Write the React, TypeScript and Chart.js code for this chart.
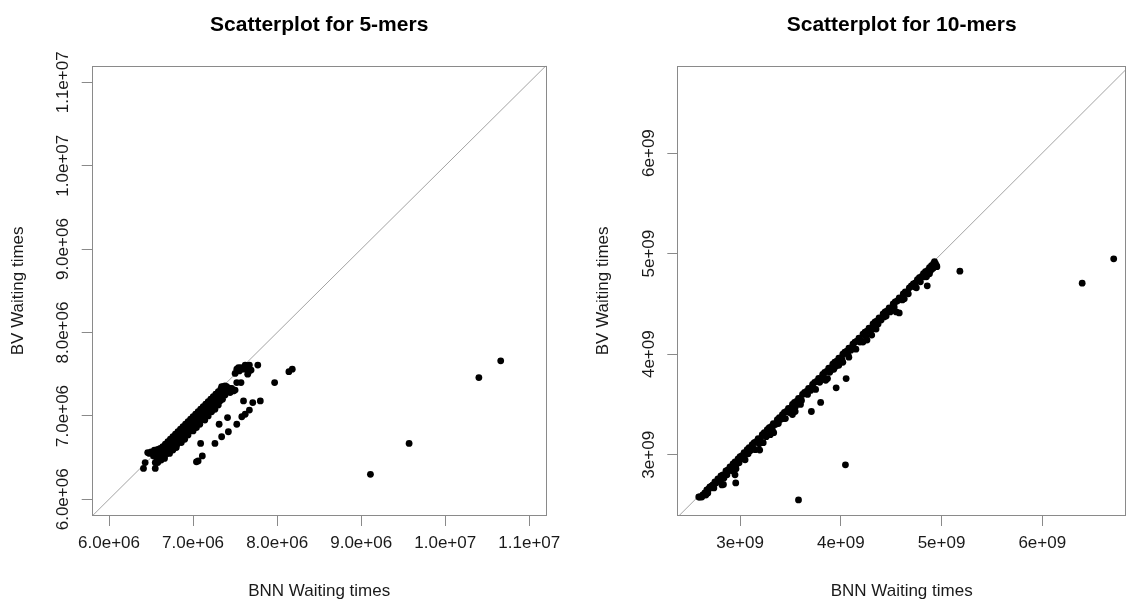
import React, { useEffect, useRef } from "react";
import { Chart, registerables } from "chart.js";

Chart.register(...registerables);

const FONT = "'Liberation Sans', Arial, Helvetica, sans-serif";
const TEXT_COLOR = "#1a1a1a";
const FRAME_COLOR = "#8a8a8a";
const DIAGONAL_COLOR = "#a3a3a3";
const POINT_COLOR = "#000000";

// ---- titles ----
const fiveMerTitle = "Scatterplot for 5-mers";
const tenMerTitle = "Scatterplot for 10-mers";
const xAxisTitle = "BNN Waiting times";
const yAxisTitle = "BV Waiting times";

// ---- 5-mers axis ----
const fiveMerTickValues = [6.0e6, 7.0e6, 8.0e6, 9.0e6, 1.0e7, 1.1e7];
const fiveMerTickLabels = ["6.0e+06", "7.0e+06", "8.0e+06", "9.0e+06", "1.0e+07", "1.1e+07"];
const fiveMerXLimits = [5.794e6, 11.207e6];
const fiveMerYLimits = [5.8e6, 11.199e6];
const fiveMerUnit = 1e6;

// [BNN, BV] in millions
const fiveMerPoints: number[][] = [
  [6.41, 6.37], [6.43, 6.44], [6.55, 6.37], [6.55, 6.44], [6.46, 6.56], [6.48, 6.55],
  [6.5, 6.57], [6.52, 6.56], [6.53, 6.52], [6.54, 6.59], [6.56, 6.55], [6.57, 6.49],
  [6.58, 6.6], [6.59, 6.54], [6.6, 6.47], [6.61, 6.61], [6.62, 6.56], [6.63, 6.5],
  [6.64, 6.63], [6.65, 6.58], [6.66, 6.52], [6.67, 6.66], [6.68, 6.61], [6.69, 6.55],
  [6.7, 6.69], [6.71, 6.64], [6.72, 6.58], [6.73, 6.72], [6.74, 6.67], [6.75, 6.61],
  [6.76, 6.75], [6.77, 6.7], [6.78, 6.63], [6.79, 6.78], [6.8, 6.73], [6.81, 6.66],
  [6.82, 6.81], [6.83, 6.76], [6.84, 6.7], [6.85, 6.84], [6.86, 6.79], [6.87, 6.72],
  [6.88, 6.87], [6.89, 6.82], [6.9, 6.76], [6.91, 6.9], [6.92, 6.85], [6.93, 6.79],
  [6.94, 6.93], [6.95, 6.88], [6.96, 6.82], [6.97, 6.96], [6.98, 6.91], [6.99, 6.85],
  [7.0, 6.99], [7.01, 6.94], [7.02, 6.88], [7.03, 7.02], [7.04, 6.97], [7.05, 6.91],
  [7.06, 7.05], [7.07, 7.0], [7.08, 6.94], [7.09, 7.08], [7.1, 7.03], [7.11, 6.97],
  [7.12, 7.11], [7.13, 7.06], [7.14, 7.0], [7.15, 7.14], [7.16, 7.09], [7.17, 7.03],
  [7.18, 7.17], [7.19, 7.12], [7.2, 7.06], [7.21, 7.2], [7.22, 7.15], [7.23, 7.09],
  [7.24, 7.23], [7.25, 7.18], [7.26, 7.12], [7.27, 7.26], [7.28, 7.21], [7.29, 7.15],
  [7.3, 7.29], [7.31, 7.24], [7.32, 7.18], [7.33, 7.32], [7.34, 7.35], [7.35, 7.27],
  [7.36, 7.35], [7.37, 7.33], [7.38, 7.36], [7.39, 7.3], [7.4, 7.35], [7.42, 7.33],
  [7.44, 7.33], [7.46, 7.33], [7.5, 7.31],
  [6.58, 6.44], [6.62, 6.47], [6.66, 6.49], [6.72, 6.55], [6.76, 6.59], [6.8, 6.62],
  [6.86, 6.68], [6.9, 6.72], [6.94, 6.77], [7.0, 6.82], [7.04, 6.86], [7.08, 6.9],
  [7.14, 6.95], [7.18, 7.0], [7.22, 7.05], [7.26, 7.08], [7.3, 7.13], [7.35, 7.2],
  [7.38, 7.25], [7.44, 7.28], [7.48, 7.3],
  [7.5, 7.51], [7.52, 7.56], [7.54, 7.58], [7.55, 7.54], [7.57, 7.58], [7.6, 7.56],
  [7.62, 7.61], [7.64, 7.6], [7.65, 7.58], [7.67, 7.61], [7.69, 7.55], [7.66, 7.53],
  [7.65, 7.5], [7.77, 7.61], [7.52, 7.4], [7.57, 7.4],
  [7.04, 6.45], [7.06, 6.46], [7.11, 6.52], [7.09, 6.67], [7.26, 6.67], [7.34, 6.75],
  [7.31, 6.9], [7.42, 6.81], [7.41, 6.98], [7.52, 6.9], [7.58, 6.99], [7.62, 7.02],
  [7.67, 7.07], [7.6, 7.18], [7.71, 7.16], [7.8, 7.18], [7.97, 7.4], [8.14, 7.53],
  [8.18, 7.56],
  [9.11, 6.3], [9.57, 6.67], [10.4, 7.46], [10.66, 7.66],
];

// ---- 10-mers axis ----
const tenMerTickValues = [3e9, 4e9, 5e9, 6e9];
const tenMerTickLabels = ["3e+09", "4e+09", "5e+09", "6e+09"];
const tenMerXLimits = [2.377e9, 6.831e9];
const tenMerYLimits = [2.391e9, 6.8685e9];
const tenMerUnit = 1e9;

// [BNN, BV] in billions
const tenMerPoints: number[][] = [
  [2.59, 2.58], [2.6, 2.58], [2.62, 2.58], [2.63, 2.6], [2.65, 2.62], [2.66, 2.6],
  [2.67, 2.65], [2.69, 2.66], [2.7, 2.68], [2.72, 2.69], [2.73, 2.7], [2.75, 2.73],
  [2.76, 2.72], [2.78, 2.76], [2.79, 2.75], [2.81, 2.79], [2.83, 2.8], [2.84, 2.77],
  [2.86, 2.84], [2.88, 2.85], [2.9, 2.88], [2.91, 2.86], [2.93, 2.91], [2.95, 2.93],
  [2.96, 2.9], [2.98, 2.96], [3.0, 2.98], [3.02, 2.99], [3.04, 3.02], [3.05, 3.0],
  [3.07, 3.05], [3.09, 3.07], [3.1, 3.04], [3.12, 3.1], [3.14, 3.12], [3.16, 3.13],
  [3.18, 3.16], [3.2, 3.15], [3.22, 3.2], [3.24, 3.22], [3.25, 3.19], [3.27, 3.25],
  [3.29, 3.27], [3.31, 3.28], [3.33, 3.31], [3.35, 3.3], [3.37, 3.35], [3.39, 3.37],
  [3.4, 3.35], [3.42, 3.4], [3.44, 3.42], [3.46, 3.43], [3.48, 3.46], [3.5, 3.45],
  [3.52, 3.5], [3.54, 3.52], [3.56, 3.53], [3.58, 3.56], [3.6, 3.55], [3.62, 3.6],
  [3.64, 3.62], [3.66, 3.63], [3.68, 3.66], [3.7, 3.64], [3.72, 3.7], [3.74, 3.72],
  [3.76, 3.73], [3.78, 3.76], [3.8, 3.74], [3.82, 3.8], [3.84, 3.82], [3.86, 3.83],
  [3.88, 3.86], [3.9, 3.84], [3.92, 3.9], [3.94, 3.92], [3.96, 3.93], [3.98, 3.96],
  [4.0, 3.94], [4.02, 4.0], [4.04, 4.02], [4.06, 4.03], [4.08, 4.06], [4.1, 4.04],
  [4.12, 4.1], [4.14, 4.12], [4.16, 4.13], [4.18, 4.16], [4.2, 4.14], [4.22, 4.2],
  [4.24, 4.22], [4.26, 4.23], [4.28, 4.26], [4.3, 4.24], [4.32, 4.3], [4.34, 4.32],
  [4.36, 4.33], [4.38, 4.36], [4.4, 4.34], [4.42, 4.4], [4.44, 4.42], [4.46, 4.43],
  [4.48, 4.46], [4.5, 4.44], [4.52, 4.5], [4.54, 4.52], [4.56, 4.53], [4.58, 4.56],
  [4.6, 4.55], [4.62, 4.6], [4.64, 4.62], [4.66, 4.62], [4.68, 4.66], [4.7, 4.68],
  [4.72, 4.7], [4.74, 4.71], [4.76, 4.74], [4.78, 4.76], [4.8, 4.77], [4.82, 4.8],
  [4.84, 4.82], [4.86, 4.83], [4.88, 4.86], [4.9, 4.88], [4.92, 4.9], [4.93, 4.92],
  [4.94, 4.9], [4.95, 4.88], [4.92, 4.86],
  [2.68, 2.62], [2.74, 2.67], [2.8, 2.74], [2.87, 2.8], [2.92, 2.84], [2.99, 2.92],
  [3.03, 2.96], [3.08, 3.01], [3.13, 3.06], [3.19, 3.11], [3.26, 3.18], [3.32, 3.25],
  [3.38, 3.31], [3.43, 3.36], [3.49, 3.42], [3.55, 3.48], [3.61, 3.54], [3.67, 3.6],
  [3.73, 3.66], [3.79, 3.72], [3.83, 3.77], [3.89, 3.82], [3.95, 3.88], [4.01, 3.95],
  [4.07, 4.0], [4.13, 4.06], [4.19, 4.12], [4.25, 4.18], [4.31, 4.25], [4.37, 4.3],
  [4.43, 4.37], [4.49, 4.42], [4.53, 4.47], [4.61, 4.54], [4.67, 4.6], [4.73, 4.67],
  [4.79, 4.72], [4.83, 4.77], [4.89, 4.83], [4.91, 4.85],
  [2.82, 2.7], [2.95, 2.8], [3.05, 2.95], [3.15, 3.05], [3.23, 3.12], [3.3, 3.2],
  [3.45, 3.36], [3.52, 3.4], [3.6, 3.5], [3.75, 3.65], [3.85, 3.74], [3.93, 3.85],
  [4.02, 3.92], [4.15, 4.05], [4.22, 4.12], [4.35, 4.25], [4.45, 4.38], [4.55, 4.42],
  [4.58, 4.41], [4.63, 4.55], [4.75, 4.66], [4.85, 4.77], [4.88, 4.8],
  [2.835, 2.705], [2.957, 2.72], [2.96, 2.86], [3.195, 3.047], [3.12, 3.066],
  [3.334, 3.22], [3.494, 3.45], [3.547, 3.43], [3.708, 3.43], [3.8, 3.52],
  [3.868, 3.757], [3.954, 3.665], [4.053, 3.757], [3.98, 3.89], [4.08, 3.97],
  [4.26, 4.14], [4.307, 4.19], [4.858, 4.68], [4.865, 4.795], [4.954, 4.87],
  [5.182, 4.825], [6.396, 4.706], [6.709, 4.948], [4.046, 2.9], [3.58, 2.551],
];

// ---- panel placement (pixels) ----
const leftPanelLayout = { left: 0, areaLeft: 91.7, padRight: 18.3, yTitlePad: 8.6 };
const rightPanelLayout = { left: 565, areaLeft: 112.3, padRight: 1, yTitlePad: 28.5 };
const PANEL_W = 565;
const PANEL_H = 605;
const AREA_TOP = 65.7;
const X_SCALE_H = 89;
const TITLE_BASELINE = 30.6;
const Y_LABEL_GAP = 23.7;

type PanelProps = {
  title: string;
  points: number[][];
  unit: number;
  tickValues: number[];
  tickLabels: string[];
  xLim: number[];
  yLim: number[];
  layout: { left: number; areaLeft: number; padRight: number; yTitlePad: number };
};

function Panel(p: PanelProps) {
  const ref = useRef<HTMLCanvasElement>(null);

  useEffect(() => {
    const canvas = ref.current;
    if (!canvas) return;
    const pts = p.points.map(([x, y]) => ({ x: x * p.unit, y: y * p.unit }));
    const lo = Math.min(p.xLim[0], p.yLim[0]);
    const hi = Math.max(p.xLim[1], p.yLim[1]);

    const framePlugin = {
      id: "frameAndLabels",
      afterDraw(chart: any) {
        const { ctx, chartArea: a } = chart;
        ctx.save();
        ctx.strokeStyle = FRAME_COLOR;
        ctx.lineWidth = 1;
        ctx.strokeRect(
          Math.round(a.left) + 0.5,
          Math.round(a.top) + 0.5,
          Math.round(a.right) - Math.round(a.left) - 1,
          Math.round(a.bottom) - Math.round(a.top) - 1
        );
        ctx.fillStyle = "#000";
        ctx.font = `bold 21px ${FONT}`;
        ctx.textAlign = "center";
        ctx.textBaseline = "alphabetic";
        ctx.fillText(p.title, (a.left + a.right) / 2, TITLE_BASELINE);

        const ys = chart.scales.y;
        ctx.font = `17px ${FONT}`;
        ctx.fillStyle = TEXT_COLOR;
        ys.ticks.forEach((t: any, i: number) => {
          const py = ys.getPixelForValue(t.value);
          ctx.save();
          ctx.translate(a.left - Y_LABEL_GAP, py);
          ctx.rotate(-Math.PI / 2);
          ctx.fillText(p.tickLabels[i], 0, 0);
          ctx.restore();
        });
        ctx.restore();
      },
    };

    const setTicks = (scale: any) => {
      scale.ticks = p.tickValues.map((v) => ({ value: v }));
    };
    const noPad = (scale: any) => {
      scale.paddingLeft = 0;
      scale.paddingRight = 0;
      scale.paddingTop = 0;
      scale.paddingBottom = 0;
    };

    const chart = new Chart(canvas, {
      type: "scatter",
      data: {
        datasets: [
          {
            data: [
              { x: lo, y: lo },
              { x: hi, y: hi },
            ],
            showLine: true,
            borderColor: DIAGONAL_COLOR,
            borderWidth: 1,
            pointRadius: 0,
            order: 2,
          } as any,
          {
            data: pts,
            backgroundColor: POINT_COLOR,
            borderColor: POINT_COLOR,
            borderWidth: 0,
            pointRadius: 3.4,
            order: 1,
          },
        ],
      },
      options: {
        animation: false,
        responsive: false,
        events: [],
        layout: {
          padding: { left: 0, right: p.layout.padRight, top: AREA_TOP, bottom: 0 },
        },
        plugins: {
          legend: { display: false },
          tooltip: { enabled: false },
          title: { display: false },
        },
        scales: {
          x: {
            type: "linear",
            min: p.xLim[0],
            max: p.xLim[1],
            bounds: "data",
            afterBuildTicks: setTicks,
            afterFit: (s: any) => {
              s.height = X_SCALE_H;
              noPad(s);
            },
            border: { display: false },
            grid: {
              drawOnChartArea: false,
              drawTicks: true,
              tickLength: 10,
              color: FRAME_COLOR,
              lineWidth: 1,
            },
            ticks: {
              autoSkip: false,
              maxRotation: 0,
              minRotation: 0,
              padding: 7,
              color: TEXT_COLOR,
              font: { family: FONT, size: 17 },
              callback: (_v: any, i: number) => p.tickLabels[i],
            },
            title: {
              display: true,
              text: xAxisTitle,
              color: TEXT_COLOR,
              font: { family: FONT, size: 17 },
              padding: { top: 0, bottom: 3 },
            },
          },
          y: {
            type: "linear",
            min: p.yLim[0],
            max: p.yLim[1],
            bounds: "data",
            afterBuildTicks: setTicks,
            afterFit: (s: any) => {
              s.width = p.layout.areaLeft;
              noPad(s);
            },
            border: { display: false },
            grid: {
              drawOnChartArea: false,
              drawTicks: true,
              tickLength: 10,
              color: FRAME_COLOR,
              lineWidth: 1,
            },
            ticks: { display: false },
            title: {
              display: true,
              text: yAxisTitle,
              color: TEXT_COLOR,
              font: { family: FONT, size: 17 },
              padding: { top: p.layout.yTitlePad, bottom: 0 },
            },
          },
        },
      } as any,
      plugins: [framePlugin],
    });

    return () => chart.destroy();
  }, []);

  return (
    <canvas
      ref={ref}
      width={PANEL_W}
      height={PANEL_H}
      style={{ position: "absolute", left: p.layout.left, top: 0, width: PANEL_W, height: PANEL_H }}
    />
  );
}

export default function App() {
  return (
    <div style={{ position: "relative", width: 1130, height: 605, background: "#fff" }}>
      <style>{"html,body{margin:0;padding:0;background:#fff;}"}</style>
      <Panel
        title={fiveMerTitle}
        points={fiveMerPoints}
        unit={fiveMerUnit}
        tickValues={fiveMerTickValues}
        tickLabels={fiveMerTickLabels}
        xLim={fiveMerXLimits}
        yLim={fiveMerYLimits}
        layout={leftPanelLayout}
      />
      <Panel
        title={tenMerTitle}
        points={tenMerPoints}
        unit={tenMerUnit}
        tickValues={tenMerTickValues}
        tickLabels={tenMerTickLabels}
        xLim={tenMerXLimits}
        yLim={tenMerYLimits}
        layout={rightPanelLayout}
      />
    </div>
  );
}
